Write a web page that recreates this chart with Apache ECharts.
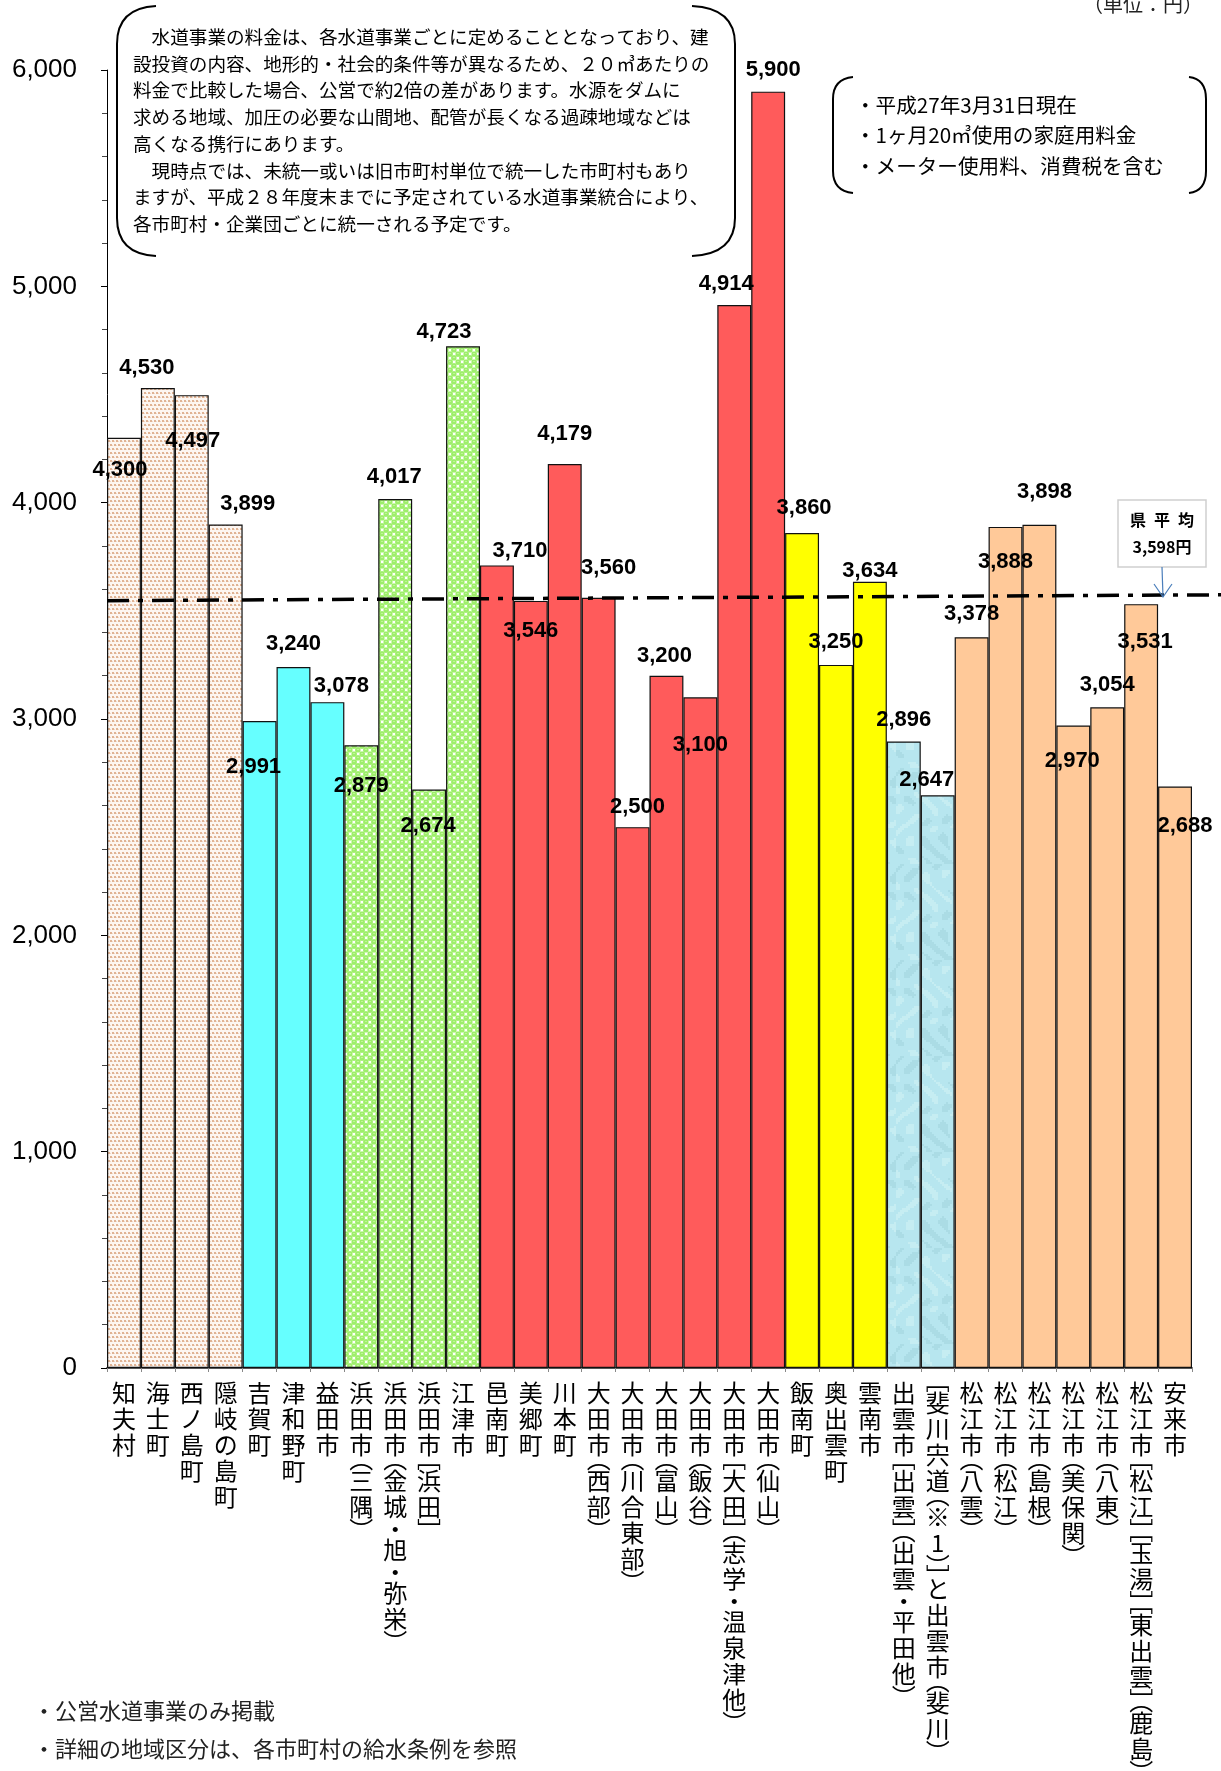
<!DOCTYPE html>
<html><head><meta charset="utf-8">
<script src="https://cdn.jsdelivr.net/npm/echarts@6/dist/echarts.min.js"></script>
<style>html,body{margin:0;padding:0;background:#fff}#c{width:1221px;height:1771px}</style>
</head><body><div id="c"></div>
<script>
// ---- data ----
const categories = [
  '知夫村','海士町','西ノ島町','隠岐の島町',
  '吉賀町','津和野町','益田市',
  '浜田市(三隅)','浜田市(金城・旭・弥栄)','浜田市[浜田]','江津市',
  '邑南町','美郷町','川本町','大田市(西部)','大田市(川合東部)','大田市(富山)','大田市(飯谷)','大田市[大田](志学・温泉津他)','大田市(仙山)',
  '飯南町','奥出雲町','雲南市',
  '出雲市[出雲](出雲・平田他)','[斐川宍道(※1)]と出雲市(斐川)',
  '松江市(八雲)','松江市(松江)','松江市(島根)','松江市(美保関)','松江市(八東)','松江市[松江][玉湯][東出雲](鹿島)','安来市'
];
const values = [4300,4530,4497,3899, 2991,3240,3078, 2879,4017,2674,4723,
  3710,3546,4179,3560,2500,3200,3100,4914,5900, 3860,3250,3634, 2896,2647,
  3378,3888,3898,2970,3054,3531,2688];
const groupIndex = [0,0,0,0, 1,1,1, 2,2,2,2, 3,3,3,3,3,3,3,3,3, 4,4,4, 5,5, 6,6,6,6,6,6,6];
const avgValue = 3598;
const avgLineEnds = [3547, 3574];
const yMin = 0, yMax = 6000, yStep = 1000;

// ---- styling ----
function makeTile(w, h, draw) {
  const cv = document.createElement('canvas'); cv.width = w; cv.height = h;
  draw(cv.getContext('2d'), w, h); return cv;
}
const dotsTile = makeTile(8, 8, (g) => {
  g.fillStyle = '#fdf6f1'; g.fillRect(0,0,8,8);
  g.fillStyle = '#e0b394';
  [[0,0],[4,0],[2,4],[6,4]].forEach(p => g.fillRect(p[0], p[1], 2, 2));
  g.fillStyle = '#f1d8c6';
  [[2,1],[6,1],[0,5],[4,5]].forEach(p => g.fillRect(p[0], p[1], 1, 1));
});
const greenTile = makeTile(8, 8, (g) => {
  g.fillStyle = '#cdf9ae'; g.fillRect(0,0,8,8);
  g.fillStyle = '#9eee6c';
  g.beginPath(); g.arc(2,2,2.8,0,Math.PI*2); g.fill();
  g.beginPath(); g.arc(6,6,2.8,0,Math.PI*2); g.fill();
  g.fillStyle = '#bff794';
  g.fillRect(1,1,2,1); g.fillRect(5,5,2,1);
  g.fillStyle = '#ffffff';
  g.fillRect(5,1,2,2); g.fillRect(1,5,2,2);
});
const waterTile = makeTile(64, 96, (g, w, h) => {
  g.fillStyle = '#b7e6ef'; g.fillRect(0,0,w,h);
  for (let y = 0; y < h; y += 2) for (let x = 0; x < w; x += 2) {
    const t = Math.sin(x*0.19 + Math.sin(y*0.11)*2.4) * Math.cos(y*0.15 + Math.sin(x*0.08)*1.9);
    if (t > 0.55) { g.fillStyle = 'rgba(130,185,198,0.22)'; g.fillRect(x,y,2,2); }
    else if (t < -0.65) { g.fillStyle = 'rgba(225,248,250,0.35)'; g.fillRect(x,y,2,2); }
  }
});
const groupFill = [
  { image: dotsTile, repeat: 'repeat' },
  '#66ffff',
  { image: greenTile, repeat: 'repeat' },
  '#ff5b5b',
  '#ffff00',
  { image: waterTile, repeat: 'repeat' },
  '#ffc999'
];
// label centre offsets relative to bar top [dx, dy]
const labelPos = [
  [-4,32],[-11,-20],[1,46],[22,-21],[-6,46],[0,-23],[14,-16],[0,41],[-1,-22],[-1,36],[-19,-14],
  [23,-14],[0,30],[0,-30],[10,-30],[5,-20],[-2,-20],[0,48],[-8,-21],[5,-22],
  [2,-25],[0,-23],[0,-11],[0,-22],[-11,-15],
  [0,-23],[0,35],[5,-33],[-1,35],[0,-22],[4,38],[10,39]
];
const LH = 22;
const barData = values.map((v, i) => ({
  value: v,
  itemStyle: { color: groupFill[groupIndex[i]] },
  label: { offset: [labelPos[i][0], labelPos[i][1] + LH/2] }
}));

const openB = { '(': '\uFE35', '[': '\uFE47' };
const closeB = { ')': '\uFE36', ']': '\uFE48' };
function vertical(s) {
  return Array.from(s).map(ch => {
    if (openB[ch]) return '{o|' + openB[ch] + '}';
    if (closeB[ch]) return '{k|' + closeB[ch] + '}';
    if (ch === '・') return '{d|' + ch + '}';
    return '{c|' + ch + '}';
  }).join('\n');
}
const cjk = '"Noto Sans CJK JP", sans-serif';
const arial = '"Liberation Sans", Arial, sans-serif';
const fmt = n => n.toLocaleString('en-US');

function bracket(xTip, xOut, yTop, yBot, r) {
  const st = { stroke: '#000', lineWidth: 2, fill: null };
  return [
    { type: 'bezierCurve', shape: { x1: xTip, y1: yTop, x2: xOut, y2: yTop + r, cpx1: xOut, cpy1: yTop + 2 }, style: st },
    { type: 'line', shape: { x1: xOut, y1: yTop + r, x2: xOut, y2: yBot - r }, style: st },
    { type: 'bezierCurve', shape: { x1: xOut, y1: yBot - r, x2: xTip, y2: yBot, cpx1: xOut, cpy1: yBot - 2 }, style: st }
  ];
}

const chart = echarts.init(document.getElementById('c'), null, { renderer: 'canvas' });
chart.setOption({
  animation: false,
  backgroundColor: '#ffffff',
  grid: [
    { left: 107, right: 29, top: 70, bottom: 403, containLabel: false, outerBoundsMode: 'none' },
    { left: 107, right: 0, top: 70, bottom: 403, containLabel: false, outerBoundsMode: 'none' }
  ],
  xAxis: [{
    type: 'category', data: categories, gridIndex: 0,
    axisLine: { lineStyle: { color: '#555', width: 2 } },
    axisTick: { show: true, length: 4, lineStyle: { color: '#888' } },
    axisLabel: {
      interval: 0, margin: 12, color: '#000', align: 'center', verticalAlign: 'top',
      formatter: vertical,
      rich: {
        c: { fontFamily: cjk, fontSize: 24, lineHeight: 26, color: '#000' },
        o: { fontFamily: cjk, fontSize: 24, height: 1, padding: [0, 0, 9, 0], color: '#000' },
        k: { fontFamily: cjk, fontSize: 24, height: 1, padding: [9, 0, 0, 0], color: '#000' },
        d: { fontFamily: cjk, fontSize: 24, lineHeight: 17, color: '#000' }
      }
    }
  }, {
    type: 'value', gridIndex: 1, min: 0, max: 1, show: false
  }],
  yAxis: [{
    type: 'value', gridIndex: 0, min: yMin, max: yMax, interval: yStep,
    axisLine: { show: true, lineStyle: { color: '#000', width: 1 } },
    axisTick: { show: true, length: 6, lineStyle: { color: '#000' } },
    minorTick: { show: true, splitNumber: 5, length: 5, lineStyle: { color: '#444' } },
    splitLine: { show: false },
    axisLabel: { margin: 30, color: '#000', fontFamily: arial, fontSize: 26, formatter: v => fmt(v) }
  }, {
    type: 'value', gridIndex: 1, min: yMin, max: yMax, show: false
  }],
  series: [{
    type: 'bar', xAxisIndex: 0, yAxisIndex: 0, data: barData,
    barCategoryGap: 0, z: 2,
    itemStyle: { borderColor: '#111', borderWidth: 1.2 },
    label: {
      show: true, position: 'top', distance: 0, color: '#000',
      fontFamily: arial, fontWeight: 'bold', fontSize: 22, lineHeight: LH,
      formatter: p => fmt(p.value)
    }
  }, {
    type: 'line', xAxisIndex: 1, yAxisIndex: 1, z: 3, symbol: 'none',
    data: [[0, avgLineEnds[0]], [1, avgLineEnds[1]]],
    lineStyle: { color: '#000', width: 3.5, type: [22, 9, 5, 9] }
  }],
  graphic: [
    ...bracket(156, 117, 6, 256, 38),
    ...bracket(692, 735, 6, 256, 38),
    ...bracket(853, 833, 77, 193, 22),
    ...bracket(1189, 1206, 77, 193, 22),
    ...[
      '　水道事業の料金は、各水道事業ごとに定めることとなっており、建',
      '設投資の内容、地形的・社会的条件等が異なるため、２０㎥あたりの',
      '料金で比較した場合、公営で約2倍の差があります。水源をダムに',
      '求める地域、加圧の必要な山間地、配管が長くなる過疎地域などは',
      '高くなる携行にあります。',
      '　現時点では、未統一或いは旧市町村単位で統一した市町村もあり',
      'ますが、平成２８年度末までに予定されている水道事業統合により、',
      '各市町村・企業団ごとに統一される予定です。'
    ].map((t, i) => ({ type: 'text', style: { text: t, x: 133, y: 37 + i * 26.7, fill: '#000', font: '18.6px ' + cjk, textVerticalAlign: 'middle' } })),
    ...[
      '・平成27年3月31日現在',
      '・1ヶ月20㎥使用の家庭用料金',
      '・メーター使用料、消費税を含む'
    ].map((t, i) => ({ type: 'text', style: { text: t, x: 855, y: 105 + i * 30.5, fill: '#000', font: '20.6px ' + cjk, textVerticalAlign: 'middle' } })),
    { type: 'text', style: { text: '（単位：円）', x: 1203, y: 4, fill: '#222', font: '20px ' + cjk, textAlign: 'right', textVerticalAlign: 'middle' } },
    { type: 'text', style: { text: '・公営水道事業のみ掲載', x: 33, y: 1711, fill: '#222', font: '22px ' + cjk, textVerticalAlign: 'middle' } },
    { type: 'text', style: { text: '・詳細の地域区分は、各市町村の給水条例を参照', x: 33, y: 1749, fill: '#222', font: '22px ' + cjk, textVerticalAlign: 'middle' } },
    { type: 'rect', shape: { x: 1118, y: 500, width: 88, height: 67 }, style: { fill: '#fff', stroke: '#cfcfcf', lineWidth: 1.5 }, z: 10 },
    { type: 'text', style: { text: '県\u2002平\u2002均', x: 1162, y: 520, fill: '#000', font: 'bold 16px ' + cjk, textAlign: 'center', textVerticalAlign: 'middle' }, z: 11 },
    { type: 'text', style: { text: fmt(avgValue) + '円', x: 1162, y: 547, fill: '#000', font: 'bold 16px ' + cjk, textAlign: 'center', textVerticalAlign: 'middle' }, z: 11 },
    { type: 'line', shape: { x1: 1162, y1: 567, x2: 1163, y2: 597 }, style: { stroke: '#4a7ebb', lineWidth: 1.2 }, z: 11 },
    { type: 'polyline', shape: { points: [[1154, 584], [1163, 597], [1172, 584]] }, style: { fill: null, stroke: '#4a7ebb', lineWidth: 1.2 }, z: 11 }
  ]
});
</script></body></html>
